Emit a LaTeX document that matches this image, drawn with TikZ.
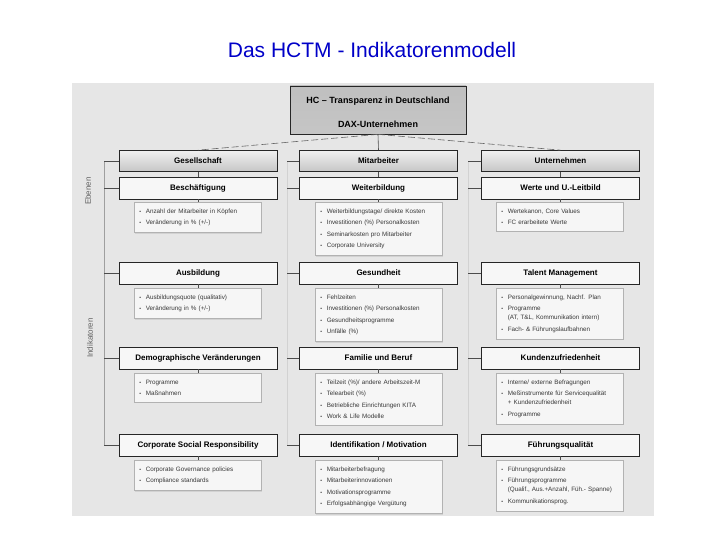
\documentclass[tikz,border=0pt]{standalone}
\usepackage{fontspec}
\setmainfont{Liberation Sans}
\usetikzlibrary{shadows}
\definecolor{titleblue}{RGB}{0,0,200}
\definecolor{panelgray}{RGB}{230,230,230}
\newcommand{\bpt}{\makebox[6.5pt][l]{\fontsize{5}{5}\selectfont\textbullet}}
\newcommand{\bcont}{\hspace*{6.5pt}}
\begin{document}
\begin{tikzpicture}[x=1pt,y=-1pt,
  topbox/.style={draw=black!85, line width=0.7pt, top color=gray!50, middle color=gray!12, bottom color=gray!45,
    minimum width=176pt, minimum height=48pt, inner sep=0pt},
  toptext/.style={font=\fontsize{9}{11}\selectfont\bfseries, inner sep=0pt},
  lvlbox/.style={draw=black!85, line width=0.7pt, top color=gray!12, bottom color=gray!45,
    minimum width=158pt, minimum height=21pt, inner sep=0pt, font=\fontsize{8}{9}\selectfont\bfseries},
  indbox/.style={draw=black!85, line width=0.7pt, fill=gray!6,
    minimum width=158pt, minimum height=22pt, inner sep=0pt, font=\fontsize{8}{9}\selectfont\bfseries},
  bulbox/.style={draw=gray!60, line width=0.6pt, fill=gray!7, anchor=north west,
    drop shadow={shadow xshift=1pt, shadow yshift=-1pt, fill=gray!35, opacity=1},
    text width=117pt, inner xsep=5pt, inner ysep=6.5pt, align=left,
    font=\fontsize{6.3}{11.5}\selectfont, text=black!78},
  axisdark/.style={draw=gray!75, line width=0.7pt},
  axislight/.style={draw=gray!35, line width=0.6pt},
  branch/.style={draw=black!70, line width=0.6pt},
  conn/.style={draw=black!70, line width=0.6pt},
  dashconn/.style={draw=black!60, line width=0.6pt, dash pattern=on 7pt off 3pt},
  sidelabel/.style={rotate=90, font=\fontsize{8}{9}\selectfont, text=black!62}
]
\useasboundingbox (0,0) rectangle (720,540);
\fill[white] (0,0) rectangle (720,540);
\fill[panelgray] (72,83) rectangle (654,516);

% title
\node[font=\fontsize{21}{25}\selectfont, text=titleblue] (title) at (372,50) {Das HCTM - Indikatorenmodell};

% top box
\node[topbox] (top) at (378,110) {};
\node[toptext] (topt1) at (378,101) {HC -- Transparenz in Deutschland};
\node[toptext] (topt2) at (378,124) {DAX-Unternehmen};

% level boxes
\node[lvlbox] (l1) at (198,161) {Gesellschaft};
\node[lvlbox] (l2) at (378.5,161) {Mitarbeiter};
\node[lvlbox] (l3) at (560.5,161) {Unternehmen};

% axis coordinates
\coordinate (aL1) at (104,161);
\coordinate (aL4) at (104,445);
\coordinate (aM1) at (287,161);
\coordinate (aM4) at (287,445);
\coordinate (aR1) at (468,161);
\coordinate (aR4) at (468,445);

% side labels
\node[sidelabel] (ebenen) at (88,191) {Ebenen};
\node[sidelabel] (indik) at (90,338) {Indikatoren};

% indicator headers
\node[indbox] (h11) at (198,188) {Beschäftigung};
\node[indbox] (h12) at (378.5,188) {Weiterbildung};
\node[indbox] (h13) at (560.5,188) {Werte und U.-Leitbild};
\node[indbox] (h21) at (198,273) {Ausbildung};
\node[indbox] (h22) at (378.5,273) {Gesundheit};
\node[indbox] (h23) at (560.5,273) {Talent Management};
\node[indbox] (h31) at (198,358) {Demographische Veränderungen};
\node[indbox] (h32) at (378.5,358) {Familie und Beruf};
\node[indbox] (h33) at (560.5,358) {Kundenzufriedenheit};
\node[indbox] (h41) at (198,445) {Corporate Social Responsibility};
\node[indbox] (h42) at (378.5,445) {Identifikation / Motivation};
\node[indbox] (h43) at (560.5,445) {Führungsqualität};

% bullet boxes
\node[bulbox] (b11) at (134,202) {\bpt Anzahl der Mitarbeiter in Köpfen\\\bpt Veränderung in \% (+/-)};
\node[bulbox] (b12) at (315,202) {\bpt Weiterbildungstage/ direkte Kosten\\\bpt Investitionen (\%) Personalkosten\\\bpt Seminarkosten pro Mitarbeiter\\\bpt Corporate University};
\node[bulbox] (b13) at (496,202) {\bpt Wertekanon, Core Values\\\bpt FC erarbeitete Werte};

\node[bulbox] (b21) at (134,288) {\bpt Ausbildungsquote (qualitativ)\\\bpt Veränderung in \% (+/-)};
\node[bulbox] (b22) at (315,288) {\bpt Fehlzeiten\\\bpt Investitionen (\%) Personalkosten\\\bpt Gesundheitsprogramme\\\bpt Unfälle (\%)};
\node[bulbox] (b23) at (496,288) {\bpt Personalgewinnung, Nachf. Plan\\\bpt Programme\\[-2.5pt]\bcont(AT, T\&L, Kommunikation intern)\\\bpt Fach- \& Führungslaufbahnen};

\node[bulbox] (b31) at (134,373) {\bpt Programme\\\bpt Maßnahmen};
\node[bulbox] (b32) at (315,373) {\bpt Teilzeit (\%)/ andere Arbeitszeit-M\\\bpt Telearbeit (\%)\\\bpt Betriebliche Einrichtungen KITA\\\bpt Work \& Life Modelle};
\node[bulbox] (b33) at (496,373) {\bpt Interne/ externe Befragungen\\\bpt Meßinstrumente für Servicequalität\\[-2.5pt]\bcont + Kundenzufriedenheit\\\bpt Programme};

\node[bulbox] (b41) at (134,460) {\bpt Corporate Governance policies\\\bpt Compliance standards};
\node[bulbox] (b42) at (315,460) {\bpt Mitarbeiterbefragung\\\bpt Mitarbeiterinnovationen\\\bpt Motivationsprogramme\\\bpt Erfolgsabhängige Vergütung};
\node[bulbox] (b43) at (496,460) {\bpt Führungsgrundsätze\\\bpt Führungsprogramme\\[-2.5pt]\bcont(Qualif., Aus.+Anzahl, Füh.- Spanne)\\\bpt Kommunikationsprog.};

% top connectors
\draw[conn] (top.south) -- (l2.north);
\draw[dashconn] (top.south) -- (l1.north);
\draw[dashconn] (top.south) -- (l3.north);

% axes
\draw[axisdark] (aL1) -- (aL4);
\draw[axislight] (aM1) -- (aM4);
\draw[axislight] (aR1) -- (aR4);

% branches
\foreach \n/\a in {l1/aL1,h11/aL1,h21/aL1,h31/aL1,h41/aL1,
                   l2/aM1,h12/aM1,h22/aM1,h32/aM1,h42/aM1,
                   l3/aR1,h13/aR1,h23/aR1,h33/aR1,h43/aR1}
  \draw[branch] (\n.west) -- (\n.west -| \a);

% level to first indicator
\draw[conn] (l1.south) -- (h11.north);
\draw[conn] (l2.south) -- (h12.north);
\draw[conn] (l3.south) -- (h13.north);

% header to bullet boxes
\foreach \r in {1,2,3,4}
  \foreach \c in {1,2,3}
    \draw[conn] (h\r\c.south) -- (h\r\c.south |- b\r\c.north);
\end{tikzpicture}
\end{document}
